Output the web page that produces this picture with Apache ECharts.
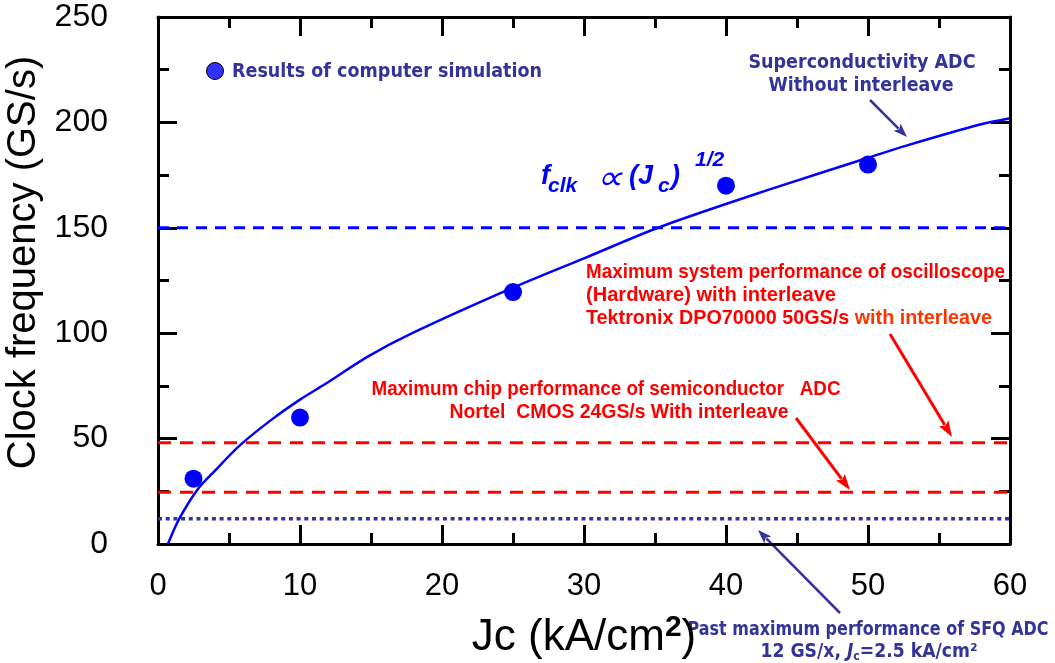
<!DOCTYPE html>
<html><head><meta charset="utf-8">
<script src="https://cdn.jsdelivr.net/npm/echarts@6/dist/echarts.min.js"></script>
<style>html,body{margin:0;padding:0;background:#fff}#c{width:1055px;height:663px}</style>
</head><body><div id="c"></div>
<script>
// ---- data ----
const simJc   = [2.5, 10, 25, 40, 50];
const simFreq = [31, 60, 119.5, 170, 180];
const curveJc   = [0.7, 1.5, 2.8, 3.9, 5.8, 8, 10, 11.8, 14.8, 17.9, 24.8, 30, 35.4, 43.3, 49.9, 52.7, 57.9, 60];
const curveFreq = [0, 12, 26, 34, 47, 59, 68.5, 76, 89, 100, 121, 135.5, 150.5, 168.7, 183, 189, 199, 202];
const xRange = [0, 60];
const yRange = [0, 250];
const levelSuper = 150;   // blue dashed
const levelOsc   = 48;    // red dashed (oscilloscope)
const levelSemi  = 24.5;  // red dashed (semiconductor ADC)
const levelSFQ   = 12;    // blue dotted (past SFQ ADC)

const BLUE = '#0000ff', NAVY = '#333399', RED = '#ff0000', ORANGE = '#ff3300';
const LAB = '"Liberation Sans", Arial, sans-serif';
const VB = '"DejaVu Sans", Verdana, sans-serif';

function hline(v) { return [[xRange[0], v], [xRange[1], v]]; }
function zip(a, b) { return a.map((v, i) => [v, b[i]]); }

function measure(style) {
  try { return new echarts.graphic.Text({ style: style }).getBoundingRect().width; }
  catch (e) {
    const c = document.createElement('canvas').getContext('2d'); c.font = style.font;
    return c.measureText((style.text || '').replace(/\{\w+\|([^}]*)\}/g, '$1')).width;
  }
}
function arrow(x1, y1, x2, y2, color, w, hl, hw) {
  const dx = x2 - x1, dy = y2 - y1, L = Math.hypot(dx, dy), ux = dx / L, uy = dy / L;
  const bx = x2 - ux * hl, by = y2 - uy * hl, px = -uy, py = ux;
  return [
    { type: 'line', shape: { x1: x1, y1: y1, x2: bx + ux * 2, y2: by + uy * 2 }, style: { stroke: color, lineWidth: w } },
    { type: 'polygon', shape: { points: [[x2, y2], [bx + px * hw / 2, by + py * hw / 2], [bx + ux * 3, by + uy * 3], [bx - px * hw / 2, by - py * hw / 2]] }, style: { fill: color } }
  ];
}
// text squeezed/stretched horizontally to a given width
function fit(x, y, text, fill, font, align, width, rich) {
  const style = { text: text, fill: fill, font: font, align: align || 'left', verticalAlign: 'middle' };
  if (rich) style.rich = rich;
  const w = measure(style);
  return { type: 'text', x: x, y: y, scaleX: width ? width / w : 1, style: style };
}

const chart = echarts.init(document.getElementById('c'), null, { renderer: 'canvas' });

const axisCommon = {
  min: xRange[0], max: xRange[1], interval: 10,
  axisLine: { show: true, onZero: false, lineStyle: { color: '#000', width: 3 } },
  axisTick: { show: true, inside: true, length: 19, lineStyle: { color: '#000', width: 3 } },
  minorTick: { show: true, splitNumber: 2, length: 11, lineStyle: { color: '#000', width: 3 } },
  splitLine: { show: false }
};
const yCommon = Object.assign({}, axisCommon, { min: yRange[0], max: yRange[1], interval: 50 });

const redFont = 'bold 21px ' + LAB;
const navyFont = 'bold 19px ' + VB;
const fMain = 'italic bold 27px ' + LAB, fSub = 'italic bold 21px ' + LAB;

const graphics = [].concat(
  [{ type: 'circle', shape: { cx: 215, cy: 71, r: 8.5 }, style: { fill: '#3333ff', stroke: '#000', lineWidth: 1 } }],
  [fit(232, 72, 'Results of computer simulation', NAVY, navyFont, 'left', 310)],
  [fit(862, 63, 'Superconductivity ADC', NAVY, navyFont, 'center', 227),
   fit(861, 86, 'Without interleave', NAVY, navyFont, 'center', 185)],
  arrow(870, 100, 907, 137, NAVY, 2.5, 14, 10),
  // formula
  [fit(541, 177, 'f', BLUE, fMain),
   fit(548, 186, 'clk', BLUE, fSub),
   fit(596, 180, '\u221D', BLUE, 'italic 34px ' + LAB, 'left', 26),
   fit(629, 177, '(J', BLUE, fMain),
   fit(658, 186, 'c', BLUE, fSub),
   fit(671, 177, ')', BLUE, fMain),
   fit(695, 160, '1/2', BLUE, fSub)],
  // oscilloscope
  [fit(586, 272, 'Maximum system performance of oscilloscope', RED, redFont, 'left', 419),
   fit(586, 295, '(Hardware) with interleave', RED, redFont, 'left', 250),
   fit(586, 318, '{a|Tektronix DPO70000 50GS/s }{b|with interleave}', RED, redFont, 'left', 406,
     { a: { fill: RED, font: redFont }, b: { fill: ORANGE, font: redFont } })],
  arrow(890, 334, 952, 437, RED, 3, 16, 11),
  // semiconductor
  [fit(606, 389, 'Maximum chip performance of semiconductor   ADC', RED, redFont, 'center', 469),
   fit(619, 412, 'Nortel  CMOS 24GS/s With interleave', RED, redFont, 'center', 339)],
  arrow(796, 418, 850, 490, RED, 3, 16, 11),
  // SFQ
  arrow(840, 613, 758, 530, NAVY, 2.5, 14, 10),
  [fit(868, 630, 'Past maximum performance of SFQ ADC', NAVY, navyFont, 'center', 361),
   fit(869, 652, '{a|12 GS/x, }{i|J}{s|c}{a|=2.5 kA/cm\u00B2}', NAVY, navyFont, 'center', 217,
     { a: { fill: NAVY, font: navyFont }, i: { fill: NAVY, font: 'italic bold 19px ' + VB }, s: { fill: NAVY, font: 'bold 12px ' + VB, padding: [9, 0, 0, 0] } })]
);

chart.setOption({
  animation: false,
  backgroundColor: '#fff',
  grid: { left: 158, right: 45, top: 17, bottom: 119, containLabel: false, outerBoundsMode: 'none' },
  xAxis: [
    Object.assign({}, axisCommon, {
      type: 'value', position: 'bottom',
      name: '{n|Jc (kA/cm}{s|2}{n|)}', nameLocation: 'middle', nameGap: 69,
      nameTextStyle: { rich: { n: { fontFamily: LAB, fontSize: 44, color: '#000' }, s: { fontFamily: LAB, fontSize: 30, fontWeight: 'bold', color: '#000', padding: [0, 0, 20, 0] } } },
      axisLabel: { show: true, margin: 27, color: '#000', fontFamily: LAB, fontSize: 31 }
    }),
    Object.assign({}, axisCommon, { type: 'value', position: 'top', axisLabel: { show: false } })
  ],
  yAxis: [
    Object.assign({}, yCommon, {
      type: 'value', position: 'left',
      name: 'Clock frequency (GS/s)', nameLocation: 'middle', nameGap: 106,
      nameTextStyle: { fontFamily: LAB, fontSize: 40, color: '#000', padding: [0, 0, 0, 36] },
      axisLabel: { show: true, margin: 50, color: '#000', fontFamily: LAB, fontSize: 32, padding: [6, 0, 0, 0] }
    }),
    Object.assign({}, yCommon, { type: 'value', position: 'right', axisLabel: { show: false } })
  ],
  series: [
    { type: 'line', name: 'Superconductivity limit', data: hline(levelSuper), symbol: 'none', lineStyle: { color: BLUE, width: 3, type: [11, 8] }, z: 2 },
    { type: 'line', name: 'Oscilloscope', data: hline(levelOsc), symbol: 'none', lineStyle: { color: RED, width: 3, type: [13, 9] }, z: 2 },
    { type: 'line', name: 'Semiconductor ADC', data: hline(levelSemi), symbol: 'none', lineStyle: { color: RED, width: 3, type: [13, 9] }, z: 2 },
    { type: 'line', name: 'SFQ ADC', data: hline(levelSFQ), symbol: 'none', lineStyle: { color: NAVY, width: 3.5, type: [4, 3.7] }, z: 2 },
    { type: 'line', name: 'fclk ∝ (Jc)^1/2', data: zip(curveJc, curveFreq), symbol: 'none', smooth: 0.3, lineStyle: { color: BLUE, width: 2.5 }, z: 3 },
    { type: 'scatter', name: 'Results of computer simulation', data: zip(simJc, simFreq), symbol: 'circle', symbolSize: 18, itemStyle: { color: BLUE, opacity: 1 }, z: 4 }
  ],
  graphic: graphics
});
</script>
</body></html>
